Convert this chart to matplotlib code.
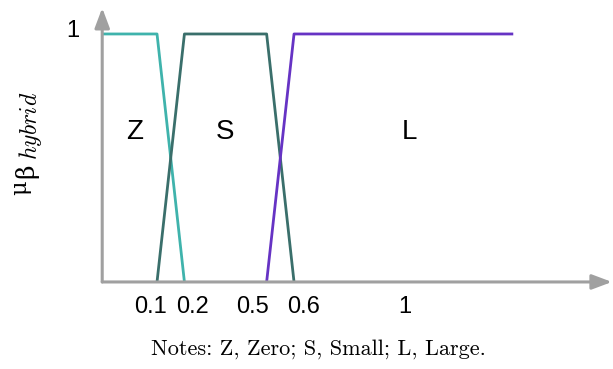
import matplotlib
matplotlib.use("Agg")
import matplotlib.pyplot as plt

# membership functions (x, mu)
z_x = [-0.1, 0.1, 0.2]
z_y = [1, 1, 0]
s_x = [0.1, 0.2, 0.5, 0.6]
s_y = [0, 1, 1, 0]
l_x = [0.5, 0.6, 1.4]
l_y = [0, 1, 1]

labels = ["Z", "S", "L"]
label_x = [0.02, 0.348, 1.02]
label_y = 0.605

xticks = [0.078, 0.23, 0.447, 0.633, 1.005]
xticklabels = ["0.1", "0.2", "0.5", "0.6", "1"]

plt.rcParams["mathtext.fontset"] = "cm"

fig = plt.figure(figsize=(6.13, 3.69), dpi=100)
ax = fig.add_axes([0, 0, 1, 1])
ax.set_xlim(-0.473, 1.764)
ax.set_ylim(-0.351, 1.137)
ax.axis("off")

gray = "#a0a0a0"
arrow = dict(arrowstyle="-|>,head_length=1.2,head_width=0.45",
             color=gray, lw=2.2, shrinkA=0, shrinkB=0)
# axes with arrows
ax.annotate("", xy=(1.76, 0), xytext=(-0.1, 0), arrowprops=arrow,
            annotation_clip=False)
ax.annotate("", xy=(-0.1, 1.105), xytext=(-0.1, 0), arrowprops=arrow,
            annotation_clip=False)

ax.plot(z_x, z_y, color="#3fb3ac", lw=2.0, solid_capstyle="butt")
ax.plot(s_x, s_y, color="#3a6f6b", lw=2.0, solid_capstyle="butt")
ax.plot(l_x, l_y, color="#6633c4", lw=2.0, solid_capstyle="butt")

for t, xx in zip(labels, label_x):
    ax.text(xx, label_y, t, fontsize=20, family="Liberation Sans",
            ha="center", va="center")

for xv, lab in zip(xticks, xticklabels):
    ax.text(xv, -0.1, lab, fontsize=17, family="Liberation Sans",
            ha="center", va="center")
ax.text(-0.207, 1.012, "1", fontsize=17, family="Liberation Sans",
        ha="center", va="center")

# y label: mu with subscript beta_hybrid
ax.text(-0.398, 0.38, "μ", fontsize=16, family="DejaVu Serif",
        rotation=90, ha="center", va="center")
ax.text(-0.378, 0.45, "β", fontsize=18, family="DejaVu Serif",
        rotation=90, ha="center", va="center")
ax.text(-0.362, 0.63, r"$hybrid$", fontsize=17,
        rotation=90, ha="center", va="center")

ax.text(0.69, -0.27, "Notes: Z, Zero; S, Small; L, Large.", fontsize=16,
        family="cmr10", ha="center", va="center")

fig.savefig("out.png", dpi=100)
